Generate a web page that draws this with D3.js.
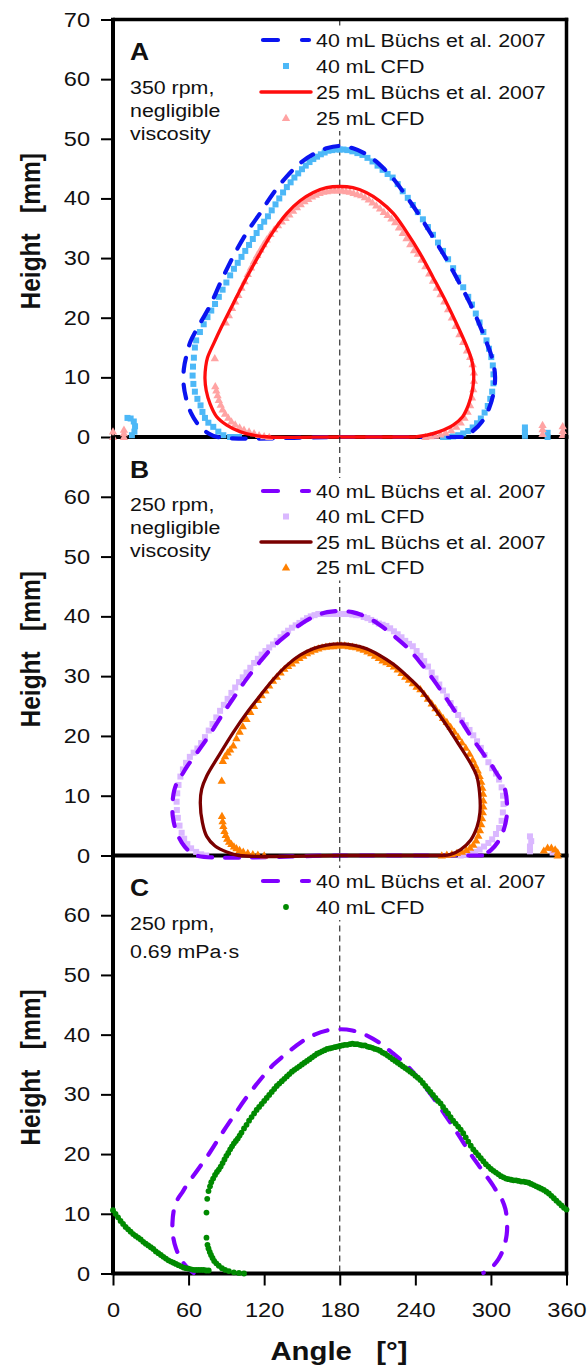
<!DOCTYPE html>
<html><head><meta charset="utf-8">
<script src="https://cdn.jsdelivr.net/npm/d3@7"></script>
<style>body{margin:0;background:#fff}svg{display:block}text{font-family:"Liberation Sans",Arial,sans-serif}</style>
</head><body><svg id="c" width="588" height="1367"></svg>
<script>
// ---------- tick labels ----------
const xTicks=[0,60,120,180,240,300,360];
const yTicksA=[0,10,20,30,40,50,60,70];
const yTicksBC=[0,10,20,30,40,50,60];

// ---------- Panel A: 350 rpm, negligible viscosity ----------
const buchs40A=[[277,0],[180,0],[83,0],[75,0.7],[68,2],[62,4],[58,6.5],[56,9],[56.3,11.5],[58.5,13.8],[61.5,16],[69,19],[77,22],[86,26.2],[95.5,30.3],[106,34.2],[116.7,37.5],[127,40.8],[138,43.7],[148.5,45.9],[159,47.4],[169.5,48.4],[180,48.8],[190.5,48.4],[201,47.4],[211.5,45.7],[222.5,43.3],[233,40.3],[243.7,37],[254,33.5],[265,29.7],[274,26.2],[283.4,22.4],[291,18.8],[297,15.6],[301.5,12.8],[303.3,10],[302,7.3],[298.5,4.8],[293,2.6],[285,0.9],[277,0]];
const cfd40A=[[100,0],[96,0],[92.9,0],[87.6,0.3],[83.6,0.9],[79.6,1.7],[75.7,2.4],[73,3.2],[71,4.2],[69.5,5.3],[67,6.4],[65,7.6],[63.8,8.9],[63.2,10.3],[63.5,11.8],[64.2,13.3],[65,15],[66,16.2],[69,17.6],[72,18.9],[75,20.1],[78,21.2],[81,22.3],[84,23.5],[87,24.7],[90,25.9],[93,27.1],[96,28.2],[99,29.2],[102,30.2],[105,31.2],[108,32.2],[111,33.2],[114,34.2],[117,35.2],[120,36.1],[123,37],[126,38],[129,39],[132,40],[135,41],[138,41.9],[141,42.7],[144,43.5],[147,44.2],[150,44.9],[153,45.5],[156,46.1],[159,46.6],[162,47],[165,47.4],[168,47.7],[171,48],[174,48.1],[177,48.2],[180,48.2],[183,48.2],[186,48.1],[190,47.9],[194,47.6],[198,47.3],[202,46.8],[206,46.2],[210,45.5],[214,44.8],[218,44.1],[222,43.5],[226,42.4],[230,41.2],[234,40.1],[238,38.9],[242,37.7],[246,36.5],[250,35.2],[254,33.9],[258,32.6],[262,31.2],[266,29.8],[270,28.3],[274,26.7],[278,25.1],[282,23.5],[285,22.2],[288,20.7],[291,19.2],[294,17.6],[296.5,16.2],[298.5,14.8],[300.3,13.4],[301.5,12],[302,10.5],[302,9],[301,7.6],[299.5,6.4],[297.5,5.2],[295,4.1],[292,3.1],[289,2.3],[285.5,1.6],[282,1],[278,0.6],[274,0.3],[270,0.1],[266,0],[262,0],
  [11.5,3.2],[14,3.1],[16.5,2.6],[17.5,1.8],[17,0.9],[15,0.3],[327,0.2],[327,0.9],[327,1.6],[345,0],[345,0.7]];
const buchs25A=[[240,0],[180,0],[124,0],[111.4,0.3],[100.8,0.9],[90.3,2],[82.3,3.4],[77,5.6],[74,7.8],[73,9.8],[73.6,11.8],[75,13.3],[80,15.7],[85.5,18.2],[95.5,22.4],[106,26.7],[116.7,30.8],[127,34.4],[138,37.5],[148.5,39.6],[159,41],[169.5,41.8],[180,42],[190.5,41.8],[201,41],[211.5,39.6],[222.5,37.5],[233,34.4],[243.7,30.8],[254,26.8],[265,22.4],[274.5,18.2],[280,15.6],[284.2,13.3],[286,11.5],[286.3,9.6],[285,7.5],[282,5.3],[277.5,3.4],[270,2],[259,0.9],[249,0.3],[240,0]];
const cfd25A=[[124,0],[120,0.1],[116,0.3],[112,0.6],[108,0.9],[104,1.2],[100.5,1.6],[97,2.1],[94,2.6],[91.5,3.2],[89,3.9],[87,4.6],[85.5,5.4],[84,6.2],[83,7],[82,7.8],[81.2,8.5],[80.8,13.2],[89.5,19.2],[92,20.4],[94.5,21.6],[97,22.7],[99.5,23.8],[102,25],[104.5,26.1],[107,27.3],[109.5,28.4],[112,29.5],[114.5,30.5],[117,31.4],[119.5,32.3],[122,33.1],[125,34],[128,34.8],[131,35.5],[134,36.1],[137,36.7],[140,37.3],[143,37.9],[146,38.5],[149,39],[152,39.5],[155,39.9],[158,40.3],[161,40.6],[164,40.9],[167,41.1],[170,41.2],[173,41.3],[176,41.3],[179,41.3],[182,41.3],[185,41.2],[188,41.1],[191,40.9],[194,40.7],[197,40.5],[200,40.2],[203,39.8],[206,39.3],[209,38.8],[212,38.3],[215,37.7],[218,37.2],[221,36.6],[224,36],[227,35.1],[230,34.2],[233,33.3],[236,32.3],[239,31.3],[242,30.7],[245,29.7],[248,28.6],[251,27.4],[254,26.2],[257,25],[260,23.9],[263,22.7],[266,21.4],[269,20],[272,18.6],[275,17.2],[278,15.9],[281,14.5],[283.5,13.4],[285.5,12.2],[286.5,10.8],[286.5,9.4],[286,8],[285,6.6],[283.5,5.3],[281.5,4.2],[279,3.2],[276,2.4],[272.5,1.7],[268.5,1.1],[264,0.7],[260,0.4],[256,0.2],[252,0.1],[248,0],
  [0,0],[0,0.9],[8.7,0],[8.7,0.6],[8.7,1.2],[341,0.5],[341,1.3],[341,2],[357,0.3],[357,1],[357,1.8]];

// ---------- Panel B: 250 rpm, negligible viscosity ----------
const buchs40B=[[293,0],[180,0],[66,0],[60,0.8],[54.5,2.2],[50,4.2],[47.5,6.5],[47.2,8.5],[48.5,10.8],[51.5,12.5],[55,13.6],[58.5,14.8],[67,17.3],[77,20.3],[86,23.3],[95.5,26.3],[106,29.5],[116.7,32.4],[127,34.9],[138,36.9],[149,38.7],[160,40],[170,40.7],[180,40.9],[190,40.7],[200,40],[211,38.7],[222,36.9],[233,34.9],[243.5,32.4],[254,29.5],[264.5,26.3],[274,23.3],[283,20.3],[293,17.3],[301.5,14.8],[305,13.6],[308.5,12.5],[311.5,10.8],[312.8,8.5],[312.5,6.5],[310,4.2],[306,2.4],[300,0.9],[293,0]];
const cfd40B=[[74,0],[70,0.2],[66,0.6],[62,1.2],[59,1.9],[56.5,2.8],[54.5,3.8],[52.8,5],[51.5,6.3],[50.7,7.6],[50.5,9],[51,10.4],[52,11.8],[53.5,13.2],[55.5,14.4],[58,15.5],[61,16.5],[64,17.2],[67,17.9],[70,18.8],[73,19.8],[76,20.9],[79,22],[82,23.1],[85,24.2],[88,25.2],[91,26.2],[94,27.2],[97,28.1],[100,29],[103,29.8],[106,30.6],[109,31.4],[112,32.2],[115,32.9],[118,33.6],[121,34.2],[124,34.8],[127,35.3],[130,35.9],[133,36.5],[136,37.1],[139,37.6],[142,38.1],[145,38.5],[148,38.9],[151,39.3],[154,39.7],[157,40],[160,40.2],[163,40.4],[166,40.4],[169,40.4],[172,40.4],[175,40.4],[178,40.4],[181,40.4],[184,40.4],[187,40.4],[190,40.3],[193,40.2],[196,40.2],[199,39.9],[202,39.7],[205,39.4],[208,39.1],[211,38.8],[214,38.6],[217,38.4],[220,38],[223,37.5],[226,37],[229,36.5],[232,35.9],[235,35.4],[238,35],[241,34.2],[244,33.4],[247,32.5],[250,31.6],[253,30.6],[256,29.6],[259,28.6],[262,27.6],[265,26.6],[268,25.5],[271,24.5],[274,23.5],[277,22.6],[280,21.8],[283,21],[286,20.1],[289,19.1],[292,18],[295,16.8],[298,15.6],[301,14.6],[304,13.7],[306.5,12.7],[308.5,11.4],[309.6,10],[310,8.6],[309.5,7.2],[308.5,5.8],[306.5,4.6],[304,3.6],[301,2.7],[298,2.1],[294.5,1.5],[291,1],[287.5,0.6],[284,0.3],[280,0.1],[276,0],
  [331,0.7],[331,1.5],[332,2.4],[331,3.2],[349,0.5]];
const buchs25B=[[262,0],[180,0],[100,0],[90.3,0.6],[81,1.6],[74.4,3.2],[71,5.5],[69.3,8.8],[70.4,11.1],[74.4,13.3],[84,16.7],[95.5,20.6],[106,23.8],[116.7,26.7],[127,29.4],[138,31.8],[148.5,33.5],[159,34.6],[169.5,35.2],[180,35.4],[190.5,35.2],[201,34.6],[211.5,33.5],[222.5,32],[233,30.1],[243.7,27.9],[254,25],[265,21.7],[274.5,18.6],[283.4,15.6],[288.7,13.3],[291,10.5],[291.3,7.2],[289,4.8],[284,2.6],[276,1],[268,0.2],[262,0]];
const cfd25B=[[120,0],[115,0.1],[111,0.2],[107,0.4],[103.4,0.6],[100.5,0.9],[98,1.2],[96,1.5],[94,1.9],[92.2,2.3],[90.7,2.8],[89.5,3.4],[88.5,4.1],[87.6,4.9],[87,5.7],[86.5,6.6],[86.3,12.5],[87.2,15.8],[89,16.6],[91,17.2],[93,17.7],[95.5,18.4],[98,19.6],[100.5,20.7],[103,21.6],[106,22.8],[109,24],[112,25],[115,26],[118,26.8],[121,27.6],[124,28.4],[127,29.2],[130,29.9],[133,30.6],[136,31.2],[139,31.7],[142,32.1],[145,32.6],[148,33],[151,33.4],[154,33.8],[157,34.1],[160,34.4],[163,34.6],[166,34.8],[169,34.9],[172,35],[175,35],[178,35.1],[181,35.1],[184,35.1],[187,35],[190,34.9],[193,34.8],[196,34.6],[199,34.4],[202,34.1],[205,33.8],[208,33.4],[211,33],[214,32.6],[217,32.3],[220,32],[223,31.6],[226,31.1],[229,30.5],[232,29.9],[235,29.4],[238,28.8],[241,28.2],[244,27.8],[247,27],[250,26.2],[253,25.4],[256,24.6],[259,23.8],[262,23],[265,22.3],[268,21.5],[271,20.7],[274,19.8],[277,18.9],[280,18],[283,17],[285.5,16],[287.5,15.1],[289.5,14.2],[291,13.3],[292.3,12.3],[293.2,11.3],[293.8,10.3],[294,9.2],[294,8.2],[293.6,7.2],[293,6.2],[292.3,5.2],[291.3,4.2],[290,3.3],[288.3,2.5],[286,1.8],[283.4,1.3],[280.5,0.9],[277,0.6],[273,0.4],[269,0.2],[265,0.1],[261,0],
  [342,0.8],[345,1.3],[348,1.3],[351,1],[353,0.5],[353,0]];

// ---------- Panel C: 250 rpm, 0.69 mPa·s ----------
const buchs40C=[[64,0.1],[60,0.8],[54.5,2.2],[50,4.2],[47.5,6.5],[47.2,8.5],[48.5,10.8],[51.5,12.5],[55,13.6],[58.5,14.8],[67,17.3],[77,20.3],[86,23.3],[95.5,26.3],[106,29.5],[116.7,32.4],[127,34.9],[138,36.9],[149,38.7],[160,40],[170,40.7],[180,40.9],[190,40.7],[200,40],[211,38.7],[222,36.9],[233,34.9],[243.5,32.4],[254,29.5],[264.5,26.3],[274,23.3],[283,20.3],[293,17.3],[301.5,14.8],[305,13.6],[308.5,12.5],[311.5,10.8],[312.8,8.5],[312.5,6.5],[310,4.2],[306,2.4],[300,0.9],[294,0.1]];
const cfd40C=[[0,10.6],[2,10],[4,9.4],[6,8.8],[8,8.3],[10,7.8],[12,7.4],[14,7],[16,6.6],[18,6.3],[20,6],[22,5.7],[24,5.3],[26,5],[28,4.7],[30,4.4],[32,4.1],[34,3.7],[36,3.4],[38,3.1],[40,2.8],[42,2.5],[44,2.2],[46,2],[48,1.8],[50,1.6],[52,1.4],[54,1.2],[56,1],[58,0.9],[60,0.8],[62,0.7],[64,0.6],[66,0.6],[68,0.6],[70,0.6],[72,0.6],[74,0.5],[76,0.5],
  [104,0],[100,0.1],[96,0.2],[92,0.4],[89,0.6],[86.5,0.9],[84,1.3],[82,1.7],[80.3,2.1],[79,2.6],[77.8,3.1],[76.8,3.6],[75.8,4.2],[75,4.8],[74.2,6],[74.2,10.2],[74.8,12.5],[75.8,13.8],[77,14.6],[78,15.3],[79.5,15.9],[81,16.5],[82.5,17],[84,17.4],[85.5,17.9],[87,18.5],[88.5,19.1],[90,19.7],[91.5,20.2],[93,20.8],[94.5,21.3],[96,21.8],[97.5,22.2],[99,22.6],[100.5,23.1],[102,23.6],[104,24.3],[106,24.9],[108,25.6],[110,26.2],[112,26.8],[114,27.4],[116,27.9],[118,28.4],[120,28.9],[122,29.4],[124,29.9],[126,30.4],[128,30.9],[130,31.4],[132,31.8],[134,32.2],[136,32.6],[138,33],[140,33.4],[142,33.8],[144,34.1],[146,34.4],[148,34.7],[150,35],[152,35.3],[154,35.6],[156,35.9],[158,36.2],[160,36.5],[162,36.8],[164,37],[166,37.2],[168,37.4],[170,37.6],[172,37.7],[174,37.8],[176,37.9],[178,38],[180,38.1],[182,38.2],[184,38.3],[186,38.3],[188,38.4],[190,38.5],[192,38.4],[194,38.4],[196,38.3],[198,38.2],[200,38.2],[202,38],[204,37.9],[206,37.8],[208,37.6],[210,37.5],[212,37.3],[214,37],[216,36.8],[218,36.5],[220,36.2],[222,35.9],[224,35.6],[226,35.3],[228,35],[230,34.7],[232,34.4],[234,34.1],[236,33.8],[238,33.5],[240,33.1],[242,32.8],[244,32.4],[246,31.9],[248,31.4],[250,30.9],[252,30.4],[254,29.9],[256,29.4],[258,28.9],[260,28.5],[262,27.9],[264,27.3],[266,26.8],[268,26.2],[270,25.6],[272,25.1],[274,24.6],[276,24.1],[278,23.5],[280,22.8],[282,22.1],[284,21.4],[286,20.8],[288,20.3],[290,19.8],[292,19.3],[294,18.8],[296,18.3],[298,17.9],[300,17.5],[302,17.2],[304,16.9],[306,16.6],[308,16.3],[310,16.1],[312,15.9],[314,15.8],[316,15.7],[318,15.6],[320,15.6],[322,15.5],[324,15.4],[326,15.4],[328,15.3],[330,15.2],[332,15],[334,14.8],[336,14.6],[338,14.4],[340,14.2],[342,14],[344,13.7],[346,13.4],[348,13],[350,12.6],[352,12.2],[354,11.8],[356,11.4],[358,11],[360,10.7]];

const legendA=["40 mL Büchs et al. 2007","40 mL CFD","25 mL Büchs et al. 2007","25 mL CFD"];
const legendB=["40 mL Büchs et al. 2007","40 mL CFD","25 mL Büchs et al. 2007","25 mL CFD"];
const legendC=["40 mL Büchs et al. 2007","40 mL CFD"];
const notesA=["350 rpm,","negligible","viscosity"];
const notesB=["250 rpm,","negligible","viscosity"];
const notesC=["250 rpm,","0.69 mPa·s"];

// ---------- drawing ----------
const SX=1.15; // horizontal text stretch of the original figure
const svg=d3.select("#c");
const x=d3.scaleLinear().domain([0,360]).range([113,566.5]);
const panels=[
 {key:"A",top:19.5,bottom:437,ticks:yTicksA,notes:notesA,legend:legendA,legY:40,legDy:26,
  series:[{type:"sq",data:cfd40A,color:"#4db8f7"},{type:"dash",data:buchs40A,color:"#0a14f0"},{type:"tri",data:cfd25A,color:"#ffa3a3"},{type:"line",data:buchs25A,color:"#ff0d0d"}],
  leg:[{type:"dash",color:"#0a14f0"},{type:"sq",color:"#4db8f7"},{type:"line",color:"#ff0d0d"},{type:"tri",color:"#ffa3a3"}]},
 {key:"B",top:437,bottom:855.5,ticks:yTicksBC,notes:notesB,legend:legendB,legY:491,legDy:25.5,
  series:[{type:"sq",data:cfd40B,color:"#dab8ff"},{type:"dash",data:buchs40B,color:"#8000ff"},{type:"tri",data:cfd25B,color:"#ff8000"},{type:"line",data:buchs25B,color:"#7a0000"}],
  leg:[{type:"dash",color:"#8000ff"},{type:"sq",color:"#dab8ff"},{type:"line",color:"#7a0000"},{type:"tri",color:"#ff8000"}]},
 {key:"C",top:855.5,bottom:1273.5,ticks:yTicksBC,notes:notesC,legend:legendC,legY:881,legDy:26,noteGap:28,
  series:[{type:"dash",data:buchs40C,color:"#8000ff"},{type:"dot",data:cfd40C,color:"#008a00"}],
  leg:[{type:"dash",color:"#8000ff"},{type:"dot",color:"#008a00"}]}
];
function stext(g,px,py,str,size,weight,anchor){
  return g.append("text").attr("transform",`translate(${px},${py}) scale(${SX},1)`)
   .attr("font-size",size).attr("font-weight",weight||"normal").attr("text-anchor",anchor||"start")
   .style("white-space","pre").attr("fill","#111").text(str);
}
const triPath=d3.symbol().type(d3.symbolTriangle).size(30)();
function marker(g,type,color,px,py){
  if(type==="sq") g.append("rect").attr("x",px-3).attr("y",py-3).attr("width",6).attr("height",6).attr("fill",color);
  else if(type==="tri") g.append("path").attr("d",triPath).attr("transform",`translate(${px},${py+0.5})`).attr("fill",color);
  else if(type==="dot") g.append("circle").attr("cx",px).attr("cy",py).attr("r",2.9).attr("fill",color);
}
panels.forEach(p=>{
  const y=d3.scaleLinear().domain([0,70]).range([p.bottom,p.top]);
  const g=svg.append("g");
  g.append("line").attr("x1",x(180)).attr("x2",x(180)).attr("y1",p.top).attr("y2",p.bottom)
   .attr("stroke","#222").attr("stroke-width",1.1).attr("stroke-dasharray","6,4");
  const nL=p.legend.length;
  g.append("rect").attr("x",255).attr("y",p.legY-13).attr("width",305).attr("height",(nL-1)*p.legDy+26).attr("fill","#fff");
  const ax=g.append("g").attr("transform",`translate(${x(0)},0)`)
    .call(d3.axisLeft(y).tickValues(p.ticks).tickSize(12).tickPadding(8).tickFormat(d3.format("d")));
  ax.select(".domain").remove();
  ax.selectAll(".tick line").attr("stroke","#000").attr("stroke-width",2);
  ax.selectAll(".tick text").attr("transform",`scale(${SX},1)`).attr("font-size",20.5).attr("fill","#111")
    .attr("font-family","Liberation Sans, Arial, sans-serif");
  const fw=3.5;
  g.append("line").attr("x1",x(0)).attr("x2",x(0)).attr("y1",p.top-fw/2).attr("y2",p.bottom+fw/2).attr("stroke","#000").attr("stroke-width",4);
  g.append("line").attr("x1",x(360)).attr("x2",x(360)).attr("y1",p.top-fw/2).attr("y2",p.bottom+fw/2).attr("stroke","#000").attr("stroke-width",fw);
  g.append("line").attr("x1",x(0)).attr("x2",x(360)+fw/2).attr("y1",p.bottom).attr("y2",p.bottom).attr("stroke","#000").attr("stroke-width",4);
  if(p.key==="A") g.append("line").attr("x1",x(0)).attr("x2",x(360)+fw/2).attr("y1",p.top).attr("y2",p.top).attr("stroke","#000").attr("stroke-width",fw);
  const lineGen=d3.line().x(d=>x(d[0])).y(d=>y(d[1])).curve(d3.curveCatmullRom.alpha(0.5));
  p.series.forEach(s=>{
    if(s.type==="dash"){
      g.append("path").attr("d",lineGen(s.data)).attr("fill","none").attr("stroke",s.color)
       .attr("stroke-width",4.2).attr("stroke-dasharray","14,13").attr("stroke-linecap","round");
    } else if(s.type==="line"){
      g.append("path").attr("d",lineGen(s.data)).attr("fill","none").attr("stroke",s.color).attr("stroke-width",3.3);
    } else {
      const mg=g.append("g");
      s.data.forEach(d=>marker(mg,s.type,s.color,x(d[0]),y(d[1])));
    }
  });
  p.leg.forEach((l,i)=>{
    const ly=p.legY+i*p.legDy;
    if(l.type==="dash") g.append("line").attr("x1",263).attr("x2",309).attr("y1",ly).attr("y2",ly).attr("stroke",l.color)
       .attr("stroke-width",4.2).attr("stroke-dasharray","15,24").attr("stroke-linecap","round");
    else if(l.type==="line") g.append("line").attr("x1",261).attr("x2",311).attr("y1",ly).attr("y2",ly).attr("stroke",l.color).attr("stroke-width",3.5).attr("stroke-linecap","round");
    else marker(g,l.type,l.color,286,ly);
    stext(g,316,ly+6.5,p.legend[i],18.6);
  });
  stext(g,130,p.top+40.5,p.key,23,"bold");
  const gap=p.noteGap||23.2;
  p.notes.forEach((t,i)=>stext(g,130,p.top+74+i*gap,t,18.6));
  svg.append("text").attr("transform",`translate(40,${(p.top+p.bottom)/2+3}) scale(${SX},1) rotate(-90)`)
    .attr("text-anchor","middle").attr("font-size",24.5).attr("font-weight","bold").style("white-space","pre")
    .attr("fill","#111").text("Height   [mm]");
  if(p.key==="C"){
    const xa=g.append("g").attr("transform",`translate(0,${p.bottom})`)
      .call(d3.axisBottom(x).tickValues(xTicks).tickSize(12).tickPadding(17).tickFormat(d3.format("d")));
    xa.select(".domain").remove();
    xa.selectAll(".tick line").attr("stroke","#000").attr("stroke-width",2);
    xa.selectAll(".tick text").attr("transform",`scale(${SX},1)`).attr("font-size",20.5).attr("fill","#111")
      .attr("font-family","Liberation Sans, Arial, sans-serif");
  }
});
stext(svg,339,1360,"Angle   [°]",25.5,"bold","middle");
</script></body></html>
